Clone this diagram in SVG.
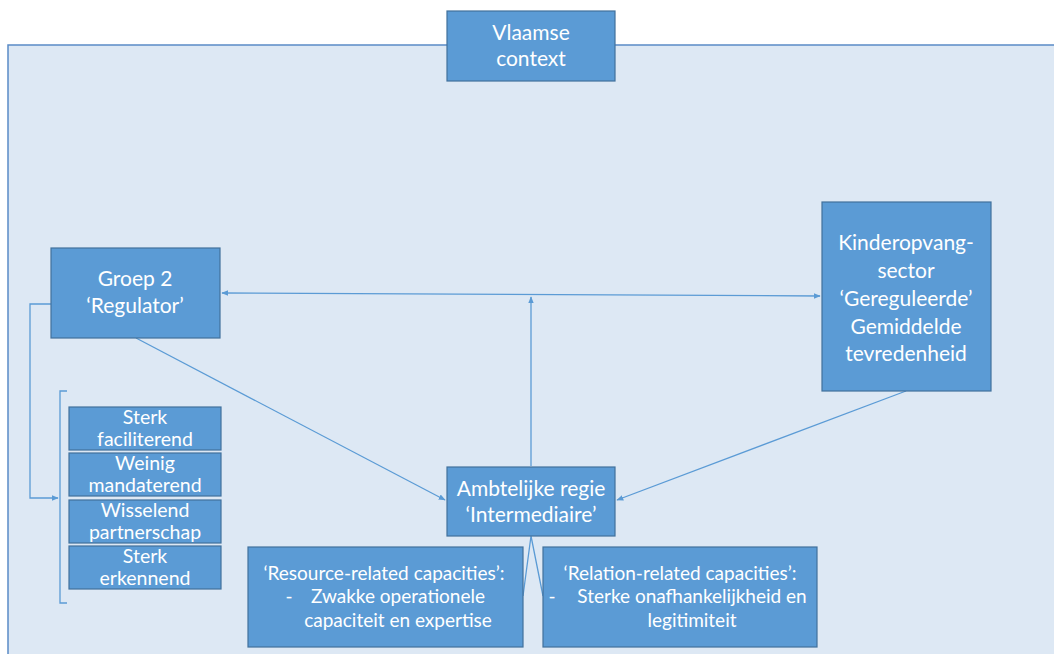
<svg xmlns="http://www.w3.org/2000/svg" width="1054" height="654" viewBox="0 0 1054 654">
<defs>
<style>
.bg{fill:#dde8f4;stroke:#5a8ac6;stroke-width:1.5}
.box{fill:#5b9bd5;stroke:#41719c;stroke-width:1.2}
.t{font-family:Lato,"Open Sans","Liberation Sans",sans-serif;fill:#ffffff;text-anchor:middle}
.big{font-size:21px}
.sm{font-size:19.5px}
.cap{font-size:19px}
.c{fill:none;stroke:#5b9bd5;stroke-width:1.3}
</style>
<marker id="ah" viewBox="0 0 10 10" refX="9" refY="5" markerWidth="7" markerHeight="7" orient="auto-start-reverse" markerUnits="userSpaceOnUse">
<path d="M0,1 L10,5 L0,9 z" fill="#5b9bd5"/>
</marker>
</defs>
<rect width="1054" height="654" fill="#ffffff"/>
<rect class="bg" x="8" y="45" width="1060" height="620"/>

<g id="connectors">
<line class="c" x1="222" y1="293" x2="820" y2="296" marker-start="url(#ah)" marker-end="url(#ah)"/>
<line class="c" x1="531" y1="466" x2="531" y2="297" marker-end="url(#ah)"/>
<line class="c" x1="136" y1="338" x2="445" y2="500" marker-end="url(#ah)"/>
<line class="c" x1="906" y1="391" x2="617" y2="500" marker-end="url(#ah)"/>
<polyline class="c" points="51,304 30,304 30,498 58,498" marker-end="url(#ah)"/>
<polyline class="c" points="67,391 60,391 60,603 67,603"/>
<polyline class="c" points="523,596 531,536 543,596"/>
</g>

<g id="vlaamse-context">
<rect class="box" x="447" y="11" width="168" height="70"/>
<text class="t big" x="531" y="40">Vlaamse</text>
<text class="t big" x="531" y="66">context</text>
</g>

<g id="groep2">
<rect class="box" x="51" y="248" width="169" height="90"/>
<text class="t big" x="135" y="286">Groep 2</text>
<text class="t big" x="135" y="313">‘Regulator’</text>
</g>

<g id="kinderopvang">
<rect class="box" x="822" y="202" width="169" height="189"/>
<text class="t big" x="906" y="250">Kinderopvang-</text>
<text class="t big" x="906" y="278">sector</text>
<text class="t big" x="906" y="306">‘Gereguleerde’</text>
<text class="t big" x="906" y="334">Gemiddelde</text>
<text class="t big" x="906" y="361">tevredenheid</text>
</g>

<g id="ambtelijke-regie">
<rect class="box" x="447" y="467" width="168" height="69"/>
<text class="t big" x="531" y="496">Ambtelijke regie</text>
<text class="t big" x="531" y="522">‘Intermediaire’</text>
</g>

<g id="sterk-faciliterend">
<rect class="box" x="69" y="407" width="152" height="43"/>
<text class="t sm" x="145" y="424">Sterk</text>
<text class="t sm" x="145" y="446">faciliterend</text>
</g>
<g id="weinig-mandaterend">
<rect class="box" x="69" y="453" width="152" height="43"/>
<text class="t sm" x="145" y="470">Weinig</text>
<text class="t sm" x="145" y="492">mandaterend</text>
</g>
<g id="wisselend-partnerschap">
<rect class="box" x="69" y="500" width="152" height="43"/>
<text class="t sm" x="145" y="517">Wisselend</text>
<text class="t sm" x="145" y="539">partnerschap</text>
</g>
<g id="sterk-erkennend">
<rect class="box" x="69" y="546" width="152" height="43"/>
<text class="t sm" x="145" y="563">Sterk</text>
<text class="t sm" x="145" y="585">erkennend</text>
</g>

<g id="resource-capacities">
<rect class="box" x="248" y="547" width="275" height="100"/>
<text class="t cap" x="384" y="580">‘Resource-related capacities’:</text>
<text class="t cap" x="289" y="603">-</text>
<text class="t cap" x="398" y="603">Zwakke operationele</text>
<text class="t cap" x="398" y="627">capaciteit en expertise</text>
</g>

<g id="relation-capacities">
<rect class="box" x="543" y="547" width="274" height="100"/>
<text class="t cap" x="680" y="580">‘Relation-related capacities’:</text>
<text class="t cap" x="552" y="603">-</text>
<text class="t cap" x="692" y="603">Sterke onafhankelijkheid en</text>
<text class="t cap" x="692" y="627">legitimiteit</text>
</g>
</svg>
